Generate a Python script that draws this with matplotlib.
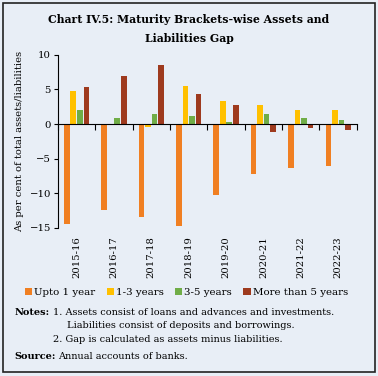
import numpy as np
import matplotlib.pyplot as plt
from matplotlib.patches import Rectangle

# data
years = ['2015-16', '2016-17', '2017-18', '2018-19', '2019-20', '2020-21', '2021-22', '2022-23']
upto_1 = [-14.5, -12.4, -13.4, -14.7, -10.2, -7.2, -6.4, -6.0]
yrs_1_3 = [4.8, 0.0, -0.4, 5.5, 3.4, 2.7, 2.1, 2.1]
yrs_3_5 = [2.0, 0.95, 1.4, 1.1, 0.3, 1.4, 0.9, 0.6]
more_5 = [5.3, 7.0, 8.5, 4.4, 2.7, -1.1, -0.6, -0.8]

series = [('Upto 1 year', upto_1, '#f07f22'),
          ('1-3 years', yrs_1_3, '#ffc000'),
          ('3-5 years', yrs_3_5, '#70ad47'),
          ('More than 5 years', more_5, '#9e3a1e')]

bg = '#e8eef6'
plt.rcParams['font.family'] = ['DejaVu Serif']

fig = plt.figure(figsize=(3.78, 3.76), dpi=100, facecolor=bg)
ax = fig.add_axes([0.153, 0.394, 0.791, 0.46], facecolor=bg)

x = np.arange(len(years))
w = 0.15
step = 0.175
for i, (name, vals, col) in enumerate(series):
    ax.bar(x + (i - 1.5) * step, vals, width=w, color=col, label=name)

ax.set_xlim(-0.5, len(years) - 0.5)
ax.set_ylim(-15, 10)
ax.set_yticks([-15, -10, -5, 0, 5, 10])
ax.tick_params(axis='y', labelsize=7.3, length=3, width=0.8, pad=2)

# category axis sits on the zero line with ticks between groups
ax.spines['top'].set_visible(False)
ax.spines['right'].set_visible(False)
ax.spines['bottom'].set_position(('data', 0))
ax.spines['bottom'].set_linewidth(0.8)
ax.spines['left'].set_linewidth(0.8)
ax.set_xticks(np.arange(-0.5, len(years), 1.0))
ax.set_xticklabels([])
ax.tick_params(axis='x', length=4, width=0.8, direction='out')
for xi, lab in zip(x, years):
    ax.text(xi, -16.2, lab, rotation=90, ha='center', va='top', fontsize=7.2)

ax.set_ylabel('As per cent of total assets/liabilities', fontsize=7.2, labelpad=4)

fig.text(0.5, 0.923, 'Chart IV.5: Maturity Brackets-wise Assets and\nLiabilities Gap',
         ha='center', va='center', fontsize=7.8, fontweight='bold', linespacing=1.9)

ax.legend(loc='center', bbox_to_anchor=(0.43, -0.375), ncol=4, frameon=False,
          fontsize=7.4, handlelength=0.7, handleheight=0.7, handletextpad=0.2,
          columnspacing=1.1, borderaxespad=0)

fs = 7.0
fig.text(0.038, 0.170, 'Notes:', fontsize=fs, fontweight='bold', va='center')
fig.text(0.140, 0.170, '1. Assets consist of loans and advances and investments.',
         fontsize=fs, va='center')
fig.text(0.177, 0.133, 'Liabilities consist of deposits and borrowings.',
         fontsize=fs, va='center')
fig.text(0.140, 0.096, '2. Gap is calculated as assets minus liabilities.',
         fontsize=fs, va='center')
fig.text(0.038, 0.053, 'Source:', fontsize=fs, fontweight='bold', va='center')
fig.text(0.153, 0.053, 'Annual accounts of banks.', fontsize=fs, va='center')

fig.patches.append(Rectangle((0.008, 0.01), 0.984, 0.982, transform=fig.transFigure,
                             fill=False, edgecolor='#222222', linewidth=1.2))

fig.savefig('out.png', dpi=100, facecolor=bg)
